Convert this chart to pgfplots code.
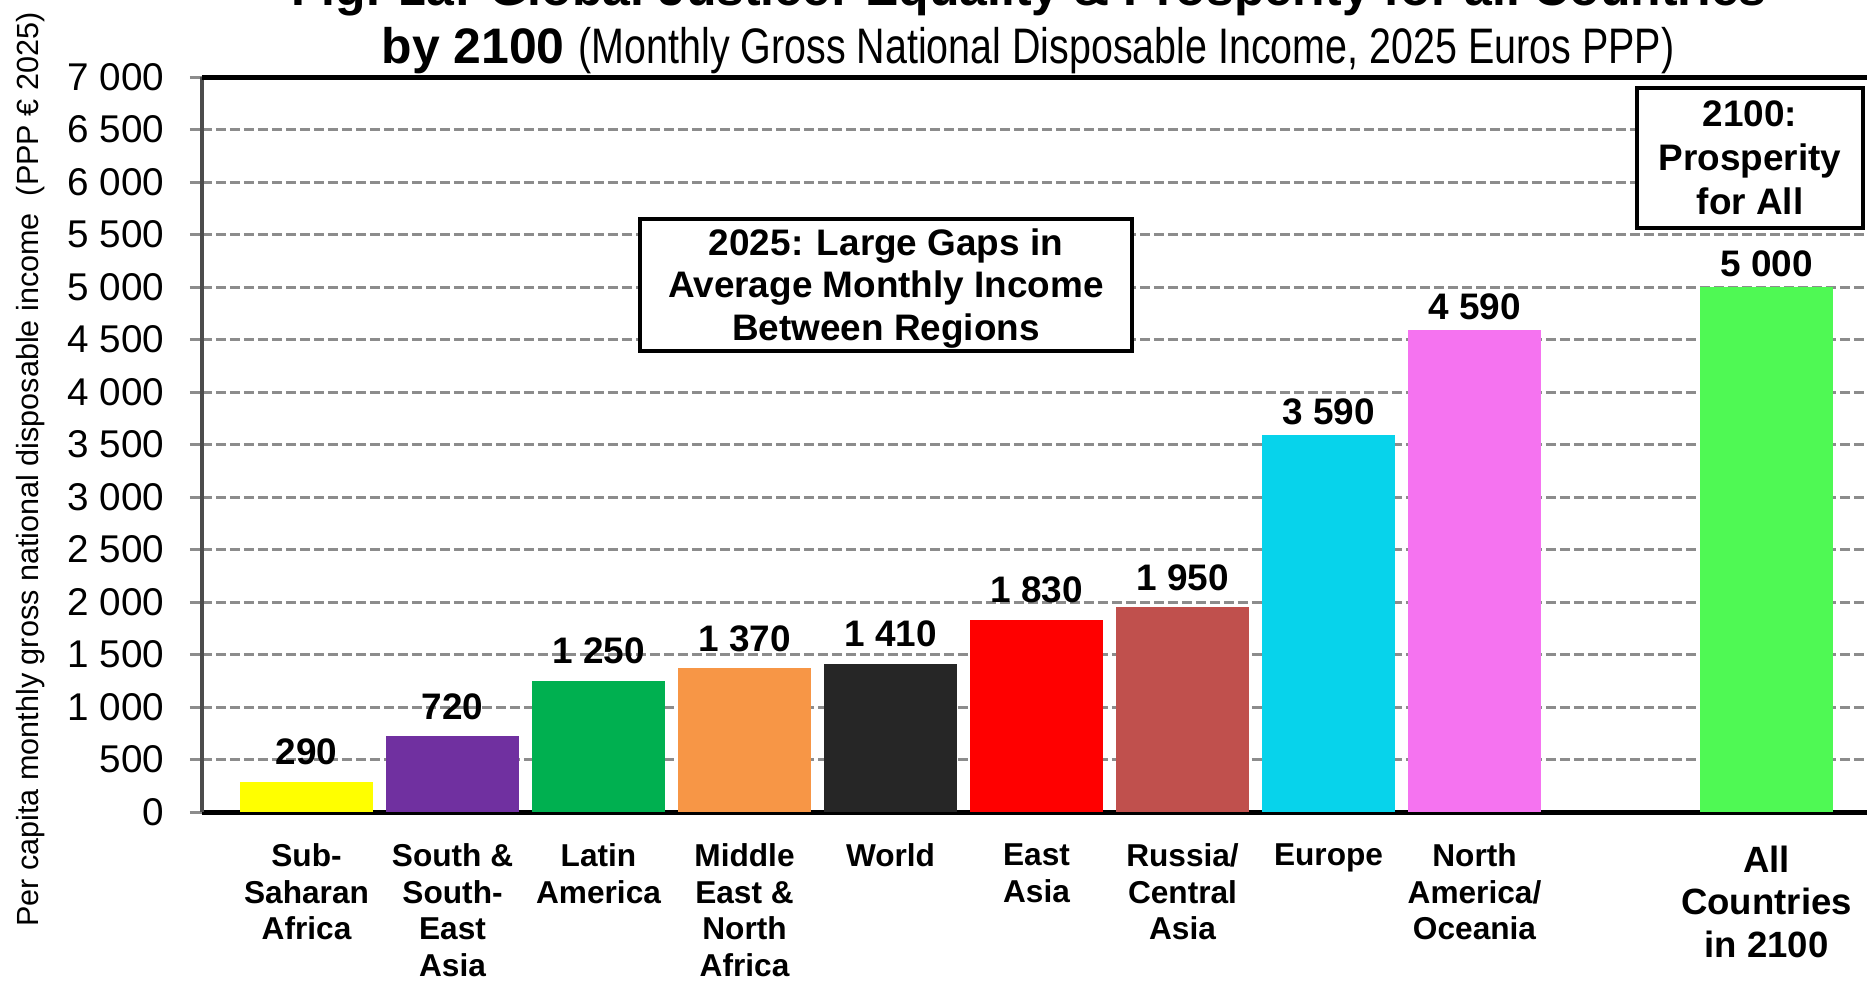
\documentclass[border=0pt]{standalone}
\usepackage{pgfplots}
\pgfplotsset{compat=1.18}
\usepackage{fontspec}
\setmainfont{Liberation Sans}
\newfontfamily\narrowfont[FakeStretch=0.79]{Liberation Sans}
\definecolor{cSSA}{HTML}{FFFF00}
\definecolor{cSEA}{HTML}{7030A0}
\definecolor{cLAT}{HTML}{00B050}
\definecolor{cMEN}{HTML}{F79646}
\definecolor{cWLD}{HTML}{262626}
\definecolor{cEAS}{HTML}{FF0000}
\definecolor{cRUS}{HTML}{C0504D}
\definecolor{cEUR}{HTML}{07D3EB}
\definecolor{cNAM}{HTML}{F573F0}
\definecolor{cALL}{HTML}{4FF954}
\definecolor{gridgray}{HTML}{8C8C8C}
\pgfplotsset{
  valbar/.style={ybar, bar width=13.3mm, draw=none, fill=#1,
    nodes near coords, point meta=explicit symbolic,
    every node near coord/.style={anchor=south, inner sep=0pt, yshift=1.6mm,
      font=\bfseries\fontsize{10.5}{12}\selectfont, text=black}},
  valbarB/.style={valbar=#1, every node near coord/.append style={yshift=-0.65mm}},
}
\begin{document}
\begin{tikzpicture}
\path[use as bounding box] (0,0) rectangle (186.7mm,-98.3mm);
\clip (0,0) rectangle (186.7mm,-98.3mm);
\begin{axis}[
  at={(20.2mm,-81.2mm)}, anchor=south west,
  scale only axis, width=167.4mm, height=73.5mm,
  xmin=-0.716, xmax=10.75, ymin=0, ymax=7000,
  axis lines*=left,
  x axis line style={black, line width=0.5mm, -},
  y axis line style={black!70, line width=0.4mm, -},
  xtick={0,...,8},
  xticklabels={{Sub-\\Saharan\\Africa},{South \&\\South-\\East\\Asia},{Latin\\America},{Middle\\East \&\\North\\Africa},{World},{East\\Asia},{Russia/\\Central\\Asia},{Europe},{North\\America/\\Oceania}},
  xticklabel style={align=center, anchor=north, inner sep=0pt, yshift=-1.9mm,
    font=\bfseries\fontsize{9}{10.4}\selectfont},
  xtick style={draw=none},
  ytick={0,500,...,7000},
  yticklabels={0,500,1~000,1~500,2~000,2~500,3~000,3~500,4~000,4~500,5~000,5~500,6~000,6~500,7~000},
  yticklabel style={anchor=east, inner sep=0pt, xshift=-2.5mm, font=\fontsize{11}{13}\selectfont},
  ytick style={draw=gridgray, line width=0.3mm},
  tick align=outside, major tick length=1.2mm,
  ymajorgrids,
  major grid style={draw=gridgray, line width=0.3mm, dash pattern=on 1mm off 0.4mm},
  clip=false,
]
\addplot[valbar=cSSA] coordinates {(0,290) [290]};
\addplot[valbar=cSEA] coordinates {(1,720) [720]};
\addplot[valbar=cLAT] coordinates {(2,1250) [1~250]};
\addplot[valbar=cMEN] coordinates {(3,1370) [1~370]};
\addplot[valbar=cWLD] coordinates {(4,1410) [1~410]};
\addplot[valbar=cEAS] coordinates {(5,1830) [1~830]};
\addplot[valbar=cRUS] coordinates {(6,1950) [1~950]};
\addplot[valbarB=cEUR] coordinates {(7,3590) [3~590]};
\addplot[valbarB=cNAM] coordinates {(8,4590) [4~590]};
\addplot[valbarB=cALL] coordinates {(10,5000) [5~000]};
\draw[black, line width=0.5mm] (rel axis cs:0,1) -- (rel axis cs:1,1);
\node[anchor=north, align=center, inner sep=0pt, yshift=-3.3mm,
  font=\bfseries\fontsize{10.4}{12.1}\selectfont] at (axis cs:10,0) {All\\Countries\\in 2100};
\end{axis}
% titles
\node[anchor=base, inner sep=0pt, font=\bfseries\fontsize{14.2}{16}\selectfont]
  at (102.9mm,-0.5mm) {Fig. 1a: Global Justice: Equality \& Prosperity for all Countries};
\node[anchor=base, inner sep=0pt, font=\fontsize{14.2}{16}\selectfont]
  at (102.8mm,-6.3mm) {\bfseries by 2100 \mdseries\narrowfont (Monthly Gross National Disposable Income, 2025 Euros PPP)};
% y label
\node[rotate=90, anchor=base, inner sep=0pt, font=\fontsize{8.7}{10}\selectfont]
  at (3.8mm,-46.95mm) {Per capita monthly gross national disposable income\ \ (PPP € 2025)};
% annotation boxes
\node[draw=black, fill=white, line width=0.33mm, minimum width=49.2mm, minimum height=13.2mm,
  inner sep=0pt] at (88.6mm,-28.5mm) {};
\node[align=center, inner sep=0pt, font=\bfseries\fontsize{10.5}{12.2}\selectfont]
  at (88.6mm,-28.85mm) {2025: Large Gaps in\\Average Monthly Income\\Between Regions};
\node[draw=black, fill=white, line width=0.38mm, minimum width=22.6mm, minimum height=14.0mm,
  align=center, inner sep=0pt, font=\bfseries\fontsize{10.5}{12.5}\selectfont]
  at (175.0mm,-15.8mm) {2100:\\Prosperity\\for All};
\end{tikzpicture}
\end{document}
